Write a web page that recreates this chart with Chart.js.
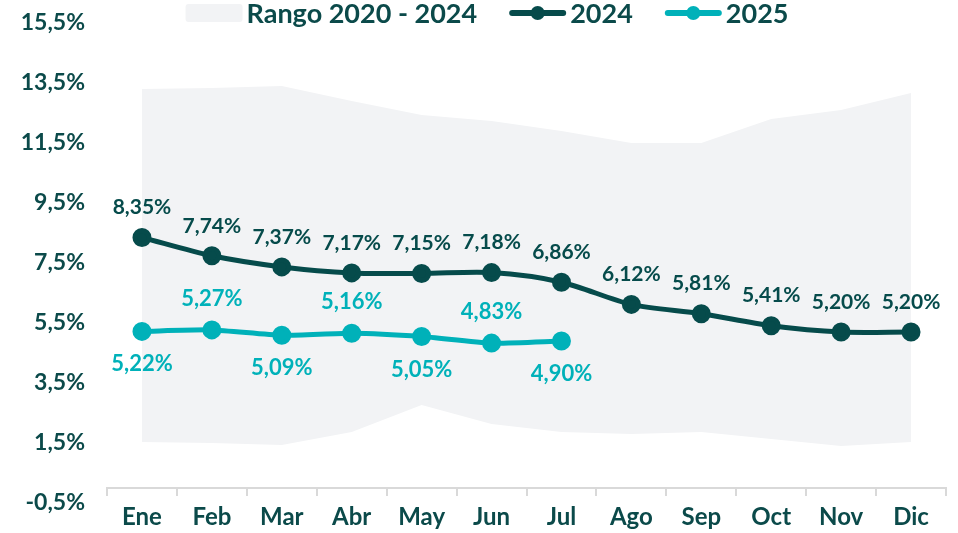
<!DOCTYPE html>
<html>
<head>
<meta charset="utf-8">
<script src="https://cdn.jsdelivr.net/npm/chart.js@4.4.1/dist/chart.umd.min.js"></script>
<style>
  html, body { margin: 0; padding: 0; background: #fff; }
  #wrap { width: 958px; height: 533px; }
</style>
</head>
<body>
<div id="wrap"><canvas id="chart"></canvas></div>
<script>
// datos
const months = ["Ene", "Feb", "Mar", "Abr", "May", "Jun", "Jul", "Ago", "Sep", "Oct", "Nov", "Dic"];
const rangoMax = [13.3, 13.33, 13.4, 12.9, 12.43, 12.23, 11.9, 11.5, 11.5, 12.3, 12.6, 13.17];
const rangoMin = [1.53, 1.5, 1.43, 1.87, 2.77, 2.13, 1.87, 1.8, 1.87, 1.63, 1.4, 1.53];
const data2024 = [8.35, 7.74, 7.37, 7.17, 7.15, 7.18, 6.86, 6.12, 5.81, 5.41, 5.20, 5.20];
const data2025 = [5.22, 5.27, 5.09, 5.16, 5.05, 4.83, 4.90];
const yTicks = [-0.5, 1.5, 3.5, 5.5, 7.5, 9.5, 11.5, 13.5, 15.5];

const DARK = "#064b4b";
const CYAN = "#00b1b9";
const BAND = "#f2f3f5";
const TEXT = "#0b4a4a";
const AXIS = "#d9d9d9";
const FONT = "Lato, 'Liberation Sans', sans-serif";

const fmt = v => v.toFixed(2).replace(".", ",") + "%";

// etiquetas de datos (no hay plugin datalabels)
const labelPlugin = {
    id: "labels",
    afterDatasetsDraw(chart) {
        const ctx = chart.ctx;
        ctx.save();
        ctx.textAlign = "center";
        ctx.textBaseline = "middle";
        chart.getDatasetMeta(2).data.forEach((pt, i) => {
            ctx.font = "bold 21px " + FONT;
            ctx.fillStyle = DARK;
            ctx.fillText(fmt(data2024[i]), pt.x, pt.y - 30);
        });
        chart.getDatasetMeta(3).data.forEach((pt, i) => {
            ctx.font = "bold 22px " + FONT;
            ctx.fillStyle = CYAN;
            const dy = i % 2 === 0 ? 33 : -31;
            ctx.fillText(fmt(data2025[i]), pt.x, pt.y + dy);
        });
        ctx.restore();
    },
};

// leyenda dibujada a mano (caja gris + líneas con punto)
const legendPlugin = {
    id: "customLegend",
    afterDraw(chart) {
        const ctx = chart.ctx;
        const items = [
            { text: chart.data.datasets[0].label, color: BAND, band: true },
            { text: chart.data.datasets[2].label, color: DARK },
            { text: chart.data.datasets[3].label, color: CYAN },
        ];
        const mark = 57, gap = 4, between = 32, y = 13;
        ctx.save();
        ctx.font = "bold 27px " + FONT;
        ctx.textBaseline = "middle";
        let total = 0;
        items.forEach((it, i) => {
            it.w = ctx.measureText(it.text).width;
            total += mark + gap + it.w + (i ? between : 0);
        });
        let x = chart.width / 2 + 8 - total / 2;
        items.forEach(it => {
            if (it.band) {
                ctx.fillStyle = it.color;
                ctx.beginPath();
                ctx.roundRect(x, y - 9, mark, 18, 3);
                ctx.fill();
            } else {
                ctx.strokeStyle = it.color;
                ctx.lineWidth = 6;
                ctx.lineCap = "round";
                ctx.beginPath();
                ctx.moveTo(x + 3, y);
                ctx.lineTo(x + mark - 3, y);
                ctx.stroke();
                ctx.fillStyle = it.color;
                ctx.beginPath();
                ctx.arc(x + mark / 2, y, 7, 0, Math.PI * 2);
                ctx.fill();
            }
            ctx.fillStyle = TEXT;
            ctx.fillText(it.text, x + mark + gap, y + 1);
            x += mark + gap + it.w + between;
        });
        ctx.restore();
    },
};

const chart = new Chart(document.getElementById("chart"), {
    type: "line",
    data: {
        labels: months,
        datasets: [
            { label: "Rango 2020 - 2024", data: rangoMax, fill: "+1", backgroundColor: BAND, borderWidth: 0, pointRadius: 0, tension: 0, order: 10 },
            { label: "min", data: rangoMin, fill: false, borderWidth: 0, pointRadius: 0, tension: 0, order: 11 },
            { label: "2024", data: data2024, borderColor: DARK, backgroundColor: DARK, borderWidth: 5, pointRadius: 7, tension: 0.3, order: 2 },
            { label: "2025", data: data2025, borderColor: CYAN, backgroundColor: CYAN, borderWidth: 5, pointRadius: 7, tension: 0.2, order: 1 },
        ],
    },
    options: {
        responsive: true,
        maintainAspectRatio: false,
        animation: false,
        // el eje x va en y = 0 y no ocupa espacio propio
        layout: { padding: { left: 0, right: 5, top: 23, bottom: 30 } },
        plugins: {
            tooltip: { enabled: false },
            legend: { display: false },
        },
        scales: {
            x: {
                position: { y: 0 },
                offset: true,
                grid: { offset: true, drawOnChartArea: false, drawTicks: true, tickLength: 7, color: AXIS, lineWidth: 2 },
                border: { display: true, color: AXIS, width: 2 },
                ticks: { color: TEXT, font: { family: FONT, size: 24, weight: "bold" }, padding: 8, maxRotation: 0, autoSkip: false },
            },
            y: {
                min: -0.5,
                max: 15.5,
                grid: { display: false, drawTicks: false },
                border: { display: false },
                afterBuildTicks: s => { s.ticks = yTicks.map(v => ({ value: v })); },
                ticks: {
                    color: TEXT,
                    font: { family: FONT, size: 23, weight: "bold" },
                    padding: 22,
                    callback: v => v.toFixed(1).replace(".", ",") + "%",
                },
                afterFit: s => { s.width = 107; s.paddingTop = 0; s.paddingBottom = 0; },
            },
        },
    },
    plugins: [labelPlugin, legendPlugin],
});
</script>
</body>
</html>
